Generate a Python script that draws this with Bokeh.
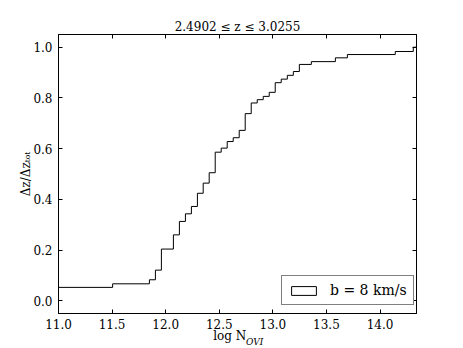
from bokeh.plotting import figure
from bokeh.models import (Range1d, LinearAxis, FixedTicker, Title, Legend,
                          LegendItem, ColumnDataSource)
from bokeh.embed import file_html
from bokeh.resources import INLINE

# ---- data ----
step_edges = [11.0, 11.505, 11.848, 11.904, 11.960, 12.072, 12.128, 12.184,
              12.240, 12.296, 12.350, 12.406, 12.462, 12.518, 12.574, 12.630,
              12.686, 12.742, 12.798, 12.854, 12.910, 12.966, 13.022, 13.078,
              13.135, 13.191, 13.247, 13.359, 13.583, 13.695, 14.142, 14.310]
cum_frac = [0.053, 0.067, 0.083, 0.121, 0.204, 0.260, 0.313, 0.343,
            0.372, 0.424, 0.464, 0.505, 0.586, 0.602, 0.628, 0.643,
            0.672, 0.738, 0.780, 0.793, 0.806, 0.822, 0.860, 0.874,
            0.889, 0.904, 0.932, 0.943, 0.958, 0.971, 0.983, 1.000]
x_min, x_max = 11.0, 14.34
y_min, y_max = -0.05, 1.05
x_ticks = [11.0, 11.5, 12.0, 12.5, 13.0, 13.5, 14.0]
y_ticks = [0.0, 0.2, 0.4, 0.6, 0.8, 1.0]
title_text = "2.4902 ≤ z ≤ 3.0255"
y_label = "Δz/Δzₜₒₜ"
x_label_main = "log N"
x_label_sub = "OVI"
legend_text = "b = 8 km/s"

FONT = "DejaVu Serif"

p = figure(width=463, height=348, output_backend="svg", toolbar_location=None,
           x_range=Range1d(x_min, x_max), y_range=Range1d(y_min, y_max),
           min_border_left=58, min_border_right=47, min_border_top=34,
           min_border_bottom=35, x_axis_location=None, y_axis_location=None)
p.background_fill_color = "white"
p.border_fill_color = "white"
p.outline_line_color = "black"
p.outline_line_width = 1
p.xgrid.visible = False
p.ygrid.visible = False

def style_axis(ax, ticks, show_labels):
    ax.ticker = FixedTicker(ticks=ticks)
    ax.axis_line_color = "black"
    ax.major_tick_line_color = "black"
    ax.major_tick_in = 4
    ax.major_tick_out = 0
    ax.minor_tick_line_color = None
    ax.major_label_text_font = FONT
    if show_labels:
        ax.major_label_text_color = "black"
        ax.major_label_text_font_size = "12px"
        ax.major_label_standoff = 5
        ax.major_label_overrides = {t: f"{t:.1f}" for t in ticks}
    else:
        ax.major_label_text_color = None
        ax.major_label_text_font_size = "0px"
        ax.major_label_standoff = 0
    ax.axis_label_text_font = FONT
    ax.axis_label_text_font_size = "12px"
    ax.axis_label_text_font_style = "normal"
    ax.axis_label_text_color = "black"

xb = LinearAxis(); style_axis(xb, x_ticks, True)
xt = LinearAxis(); style_axis(xt, x_ticks, False)
xt.axis_label = title_text
xt.axis_label_standoff = 1
yl = LinearAxis(); style_axis(yl, y_ticks, True)
yl.major_label_standoff = 6
yl.axis_label = y_label
yl.axis_label_standoff = -3
yr = LinearAxis(); style_axis(yr, y_ticks, False)
p.add_layout(xb, "below")
p.add_layout(xt, "above")
p.add_layout(yl, "left")
p.add_layout(yr, "right")

# x-axis label "log N" with italic subscript "OVI" (side-panel titles)
p.add_layout(Title(text=x_label_main, align="left", offset=154.7,
                   vertical_align="top", standoff=-5,
                   text_font=FONT, text_font_size="12px",
                   text_font_style="normal", text_color="black"), "below")
p.add_layout(Title(text=x_label_sub, align="left", offset=187.5,
                   vertical_align="top", standoff=-11.5,
                   text_font=FONT, text_font_size="9px",
                   text_font_style="italic", text_color="black"), "below")

# step curve (cumulative distribution)
xs = [step_edges[0]] + step_edges + [x_max]
ys = [0.0] + cum_frac + [cum_frac[-1]]
p.step(xs, ys, mode="after", line_color="black", line_width=1)

# legend proxy (hidden, zero-size patch)
proxy = p.quad(source=ColumnDataSource(dict(left=[x_min], right=[x_min],
                                            top=[y_min], bottom=[y_min])),
               left="left", right="right", top="top", bottom="bottom",
               fill_color="white", line_color="black", line_width=1)
proxy.visible = False
legend = Legend(items=[LegendItem(label=legend_text, renderers=[proxy])],
                location=(223, 8), margin=0, padding=6, spacing=0,
                glyph_width=31, glyph_height=11, label_standoff=11,
                label_height=14,
                border_line_color="black", border_line_width=1,
                background_fill_color="white", background_fill_alpha=1,
                label_text_font=FONT, label_text_font_size="14px",
                label_text_color="black")
p.add_layout(legend, "center")

open("out.html", "w").write(file_html(p, INLINE))
